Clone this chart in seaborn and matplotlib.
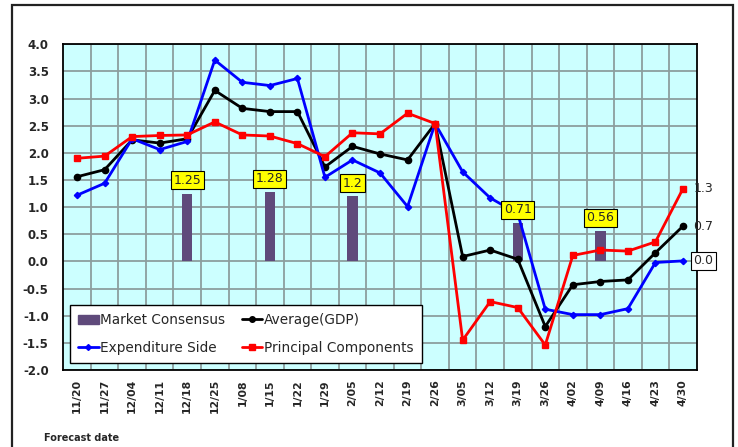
"""Weekly GDP nowcast comparison chart (forecast date vs. growth rate)."""

import matplotlib.pyplot as plt
import numpy as np
import pandas as pd
import seaborn as sns
from matplotlib.lines import Line2D
from matplotlib.patches import Patch, Rectangle

DATES = [
    "11/20", "11/27", "12/04", "12/11", "12/18", "12/25", "1/08", "1/15",
    "1/22", "1/29", "2/05", "2/12", "2/19", "2/26", "3/05", "3/12",
    "3/19", "3/26", "4/02", "4/09", "4/16", "4/23", "4/30",
]
AVERAGE_GDP = [
    1.56, 1.69, 2.24, 2.18, 2.26, 3.15, 2.82, 2.76, 2.76, 1.74, 2.12, 1.98,
    1.87, 2.54, 0.09, 0.21, 0.04, -1.20, -0.43, -0.37, -0.34, 0.16, 0.65,
]
EXPENDITURE_SIDE = [
    1.22, 1.44, 2.26, 2.06, 2.21, 3.71, 3.30, 3.24, 3.37, 1.55, 1.87, 1.63,
    1.01, 2.54, 1.65, 1.17, 0.88, -0.88, -0.98, -0.98, -0.87, -0.02, 0.01,
]
PRINCIPAL_COMPONENTS = [
    1.90, 1.94, 2.30, 2.32, 2.33, 2.57, 2.33, 2.31, 2.17, 1.93, 2.37, 2.35,
    2.73, 2.54, -1.45, -0.74, -0.85, -1.54, 0.11, 0.21, 0.19, 0.36, 1.34,
]
CONSENSUS_DATES = ["12/18", "1/15", "2/05", "3/19", "4/09"]
CONSENSUS_VALUES = [1.25, 1.28, 1.20, 0.71, 0.56]
END_LABELS = ["1.3", "0.7", "0.0"]

BAR_COLOR = "#5f4a7b"
GRID_COLOR = "#8c9e9e"


def main() -> None:
    sns.set_style("white")
    plt.rcParams["font.family"] = ["DejaVu Sans"]

    fig = plt.figure(figsize=(7.38, 4.47), dpi=100)
    ax = fig.add_axes([0.0858, 0.1723, 0.8583, 0.7286])
    ax.set_facecolor("#ccffff")

    positions = np.arange(len(DATES))
    consensus = pd.DataFrame({"date": DATES, "value": np.nan})
    consensus.loc[consensus["date"].isin(CONSENSUS_DATES), "value"] = CONSENSUS_VALUES
    sns.barplot(
        data=consensus, x="date", y="value", order=DATES, color=BAR_COLOR,
        width=0.38, saturation=1, linewidth=0, edgecolor=BAR_COLOR, ax=ax,
        zorder=3,
    )

    series = [
        ("Average(GDP)", AVERAGE_GDP, "black", "o", 4.5),
        ("Expenditure Side", EXPENDITURE_SIDE, "#0000ff", "D", 3.2),
        ("Principal Components", PRINCIPAL_COMPONENTS, "#ff0000", "s", 5.0),
    ]
    for name, values, color, marker, size in series:
        frame = pd.DataFrame({"pos": positions, "value": values})
        sns.lineplot(
            data=frame, x="pos", y="value", color=color, marker=marker,
            markersize=size, markeredgecolor=color, markeredgewidth=1.0,
            linewidth=2.0, ax=ax, zorder=4, clip_on=False,
        )

    # consensus value boxes
    for date, value in zip(CONSENSUS_DATES, CONSENSUS_VALUES):
        ax.annotate(
            f"{value:g}", (DATES.index(date), value), xytext=(0, 9.5),
            textcoords="offset points", ha="center", va="center", fontsize=9,
            bbox=dict(boxstyle="square,pad=0.2", fc="#ffff00", ec="black", lw=0.8),
            zorder=6,
        )

    # latest-value labels at the right end
    last = len(DATES) - 1
    ends = [PRINCIPAL_COMPONENTS[-1], AVERAGE_GDP[-1], EXPENDITURE_SIDE[-1]]
    for text, value in zip(END_LABELS, ends):
        box = None
        if text == "0.0":
            box = dict(boxstyle="square,pad=0.2", fc="white", ec="black", lw=0.8)
        ax.annotate(
            text, (last, value), xytext=(7.5, 0), textcoords="offset points",
            ha="left", va="center", fontsize=9, bbox=box, annotation_clip=False,
            zorder=6,
        )

    ax.set_xlim(-0.5, len(DATES) - 0.5)
    ax.set_ylim(-2.0, 4.0)
    ax.set_yticks(np.arange(-2.0, 4.01, 0.5))
    ax.set_yticklabels([f"{v:.1f}" for v in np.arange(-2.0, 4.01, 0.5)],
                       fontweight="bold", fontsize=8.5)
    ax.set_xticks(positions)
    ax.set_xticklabels(DATES, rotation=90, fontweight="bold", fontsize=7.8)
    ax.tick_params(axis="y", length=0, pad=10.5)
    ax.tick_params(axis="x", length=0, pad=6.5)
    ax.set_xlabel("")
    ax.set_ylabel("")

    ax.set_axisbelow(True)
    for y in np.arange(-2.0, 4.01, 0.5):
        ax.axhline(y, color=GRID_COLOR, lw=1.3, zorder=1)
    for x in np.arange(0.5, len(DATES) - 0.5, 1.0):
        ax.axvline(x, color=GRID_COLOR, lw=1.3, zorder=1)
    for spine in ax.spines.values():
        spine.set_visible(True)
        spine.set_color("black")
        spine.set_linewidth(1.3)

    handles = [
        Patch(facecolor=BAR_COLOR, edgecolor=BAR_COLOR),
        Line2D([], [], color="#0000ff", marker="D", markersize=3, lw=2),
        Line2D([], [], color="black", marker="o", markersize=4, lw=2),
        Line2D([], [], color="#ff0000", marker="s", markersize=4, lw=2),
    ]
    labels = ["Market Consensus", "Expenditure Side", "Average(GDP)",
              "Principal Components"]
    legend = ax.legend(
        handles, labels, ncol=2, loc="lower left", mode="expand",
        bbox_to_anchor=(0.0106, 0.0215, 0.555, 0.197), fontsize=9.8,
        frameon=True, fancybox=False, framealpha=1, edgecolor="black",
        handlelength=1.5, handletextpad=0.1, borderaxespad=0,
        labelspacing=1.0, borderpad=0.6, columnspacing=1.0,
    )
    legend.get_frame().set_linewidth(1.0)
    legend.set_zorder(7)

    fig.text(0.06, 0.02, "Forecast date", fontsize=7, fontweight="bold",
             ha="left", va="center")
    fig.patches.append(Rectangle(
        (0.0163, -0.05), 0.9767, 1.0388, transform=fig.transFigure,
        fill=False, edgecolor="#222222", linewidth=1.6,
    ))

    fig.savefig("out.png", dpi=100)
    plt.close(fig)


if __name__ == "__main__":
    main()
